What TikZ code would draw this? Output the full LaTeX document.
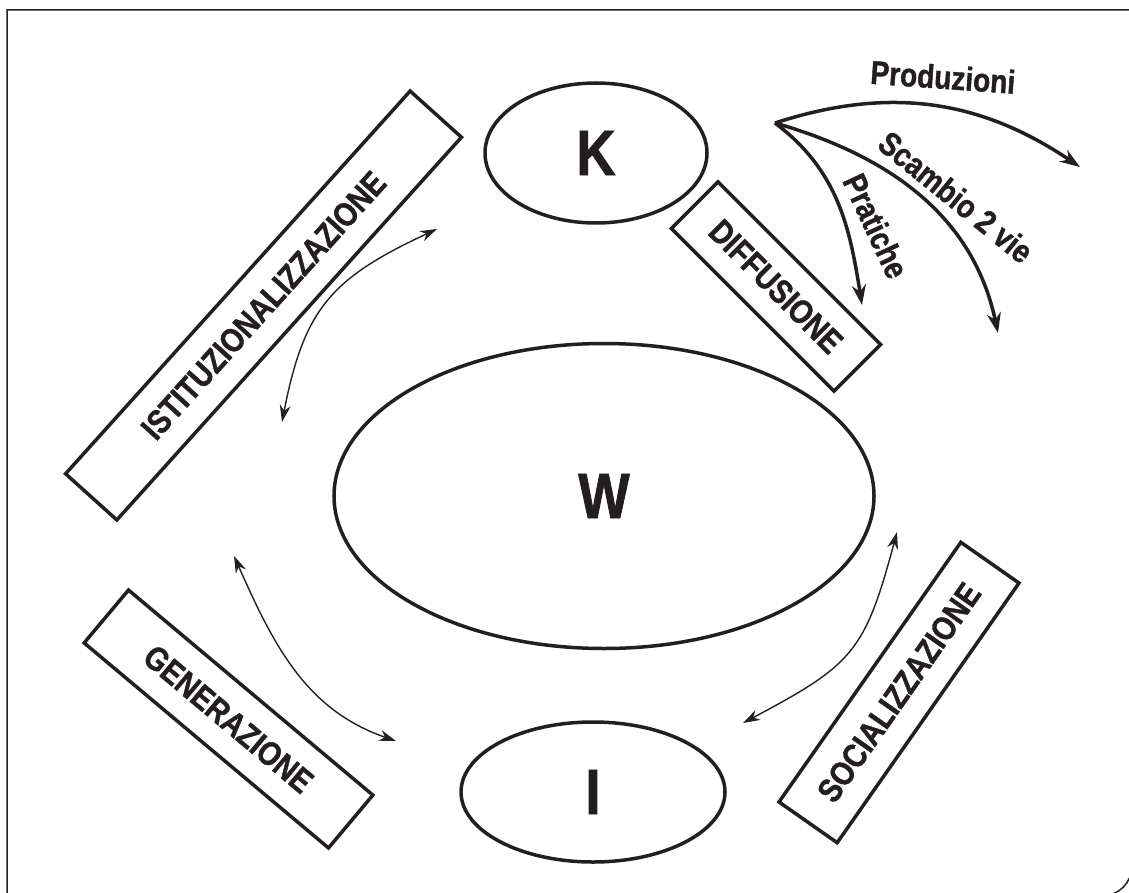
\documentclass[tikz,border=0pt]{standalone}
\usepackage{fontspec}
\setmainfont[FakeStretch=0.85, BoldFeatures={FakeBold=1.2}]{Liberation Sans}
\usetikzlibrary{shapes,arrows.meta}
\definecolor{ink}{HTML}{231F20}

\begin{document}
\begin{tikzpicture}[
        x=1pt, y=1pt,
        every node/.style={text=ink},
        blob/.style={draw=ink, ellipse, line width=3.5pt, inner sep=0pt, font=\bfseries\fontsize{64}{64}\selectfont},
        tag/.style={draw=ink, rectangle, line width=3.5pt, inner sep=0pt, font=\bfseries\fontsize{33.5}{33.5}\selectfont},
        lbl/.style={inner sep=0pt, font=\bfseries\fontsize{33}{33}\selectfont},
        flow/.style={draw=ink, line width=3.5pt, -{Stealth[length=20pt,width=14pt]}},
        link/.style={draw=ink, line width=1.4pt, {Stealth[length=17pt,width=11pt]}-{Stealth[length=17pt,width=11pt]}}
      ]
      \useasboundingbox (0,-893) rectangle (1129,0);
      \clip (0,-893) rectangle (1129,0);

      % frame
      \draw[ink, line width=1.5pt] (7,-896) -- (7,-10) -- (1132,-10) -- (1132,-866)
        arc[start angle=0, end angle=-90, radius=30] -- cycle;

      \node[blob, minimum width=222pt, minimum height=140pt] (K) at (596,-153) {K};
      \node[blob, minimum width=540pt, minimum height=305pt] (W) at (604,-496) {W};
      \node[blob, minimum width=264pt, minimum height=140pt] (I) at (593,-792) {I};

      \node[tag, rotate=48, minimum width=515pt, minimum height=69pt] (ist) at (263.5,-305.5) {ISTITUZIONALIZZAZIONE};
      \node[tag, rotate=-45, minimum width=230pt, minimum height=66pt] (dif) at (776,-286.5) {DIFFUSIONE};
      \node[tag, rotate=-40, minimum width=319pt, minimum height=69pt] (gen) at (228.5,-719) {GENERAZIONE};
      \node[tag, rotate=55, minimum width=317pt, minimum height=71pt] (soc) at (899,-692.5) {SOCIALIZZAZIONE};

      % outgoing flows
      \coordinate (src) at (775,-123);
      \coordinate (prodEnd) at (1080,-167);
      \coordinate (scamEnd) at (998,-333);
      \coordinate (pratEnd) at (862,-305);

      \draw[flow] (src) to[out=18, in=146] (prodEnd);
      \draw[flow] (src) to[out=-16, in=102] (scamEnd);
      \draw[flow] (src) to[out=-37, in=99] (pratEnd);

      \node[lbl, rotate=-4] (prod) at (943,-77) {Produzioni};
      \node[lbl, rotate=-39] (scam) at (956,-197) {Scambio 2 vie};
      \node[lbl, rotate=-65] (prat) at (876,-226) {Pratiche};

      % two-way links around W
      \coordinate (kIst) at (437,-229);
      \coordinate (wIst) at (282,-422);
      \coordinate (wGen) at (234,-556);
      \coordinate (iGen) at (396,-741);
      \coordinate (wSoc) at (897,-532);
      \coordinate (iSoc) at (743,-723);

      \draw[link] (kIst) to[out=205, in=79, looseness=1.2] (wIst);
      \draw[link] (wGen) to[out=-66, in=161] (iGen);
      \draw[link] (wSoc) to[out=-105, in=28, looseness=1.3] (iSoc);

    \end{tikzpicture}
\end{document}
